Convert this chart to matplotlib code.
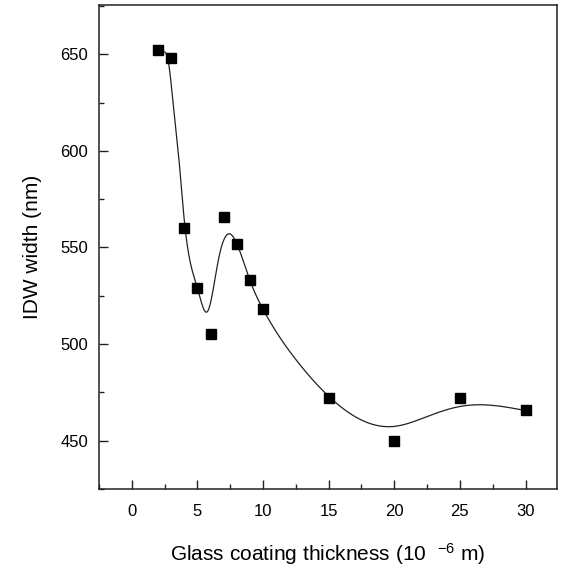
import numpy as np
import matplotlib
matplotlib.use("Agg")
import matplotlib.pyplot as plt
from matplotlib.ticker import MultipleLocator

# measured data points
thickness = [2, 3, 4, 5, 6, 7, 8, 9, 10, 15, 20, 25, 30]
idw_width = [652, 648, 560, 529, 505, 566, 552, 533, 518, 472, 450, 472, 466]

# smooth fitted curve, read at knots from the picture
curve_x = [2.3, 2.8, 3.2, 3.6, 4.0, 5.0, 5.77, 6.6, 7.42, 8.0, 9.0, 10.0,
           12.5, 15.0, 17.9, 20.0, 22.5, 25.0, 26.6, 30.0]
curve_y = [650.8, 645.5, 621, 595, 564, 529, 516.9, 543.7, 557.1, 552, 533, 518,
           492.0, 473, 459.5, 457.4, 462.5, 467.7, 468.6, 465.6]

x_ticks = [0, 5, 10, 15, 20, 25, 30]
y_ticks = [450, 500, 550, 600, 650]


def natural_spline(x, y, xs):
    x = np.asarray(x, float); y = np.asarray(y, float)
    n = len(x); h = np.diff(x)
    A = np.zeros((n, n)); b = np.zeros(n)
    A[0, 0] = 1; A[-1, -1] = 1
    for i in range(1, n - 1):
        A[i, i - 1] = h[i - 1]; A[i, i] = 2 * (h[i - 1] + h[i]); A[i, i + 1] = h[i]
        b[i] = 6 * ((y[i + 1] - y[i]) / h[i] - (y[i] - y[i - 1]) / h[i - 1])
    M = np.linalg.solve(A, b)
    idx = np.clip(np.searchsorted(x, xs) - 1, 0, n - 2)
    x0 = x[idx]; x1 = x[idx + 1]; hh = h[idx]
    return (M[idx] * (x1 - xs) ** 3 / (6 * hh) + M[idx + 1] * (xs - x0) ** 3 / (6 * hh)
            + (y[idx] / hh - M[idx] * hh / 6) * (x1 - xs)
            + (y[idx + 1] / hh - M[idx + 1] * hh / 6) * (xs - x0))


plt.rcParams['font.family'] = ['Liberation Sans', 'DejaVu Sans']
plt.rcParams['mathtext.fontset'] = 'custom'
plt.rcParams['mathtext.rm'] = 'Liberation Sans'
plt.rcParams['mathtext.it'] = 'Liberation Sans'

fig = plt.figure(figsize=(5.61, 5.68), dpi=100)
ax = fig.add_axes([99 / 561, 1 - 489 / 568, (557 - 99) / 561, (489 - 5) / 568])

xs = np.linspace(curve_x[0], curve_x[-1], 1200)
ax.plot(xs, natural_spline(curve_x, curve_y, xs), color='#222222', lw=0.9, zorder=2)
ax.plot(thickness, idw_width, linestyle='none', marker='s', ms=7.2,
        color='black', zorder=3)

ax.set_xlim(-2.5, 32.4)
ax.set_ylim(425, 675.5)
ax.set_xticks(x_ticks)
ax.set_yticks(y_ticks)
ax.xaxis.set_minor_locator(MultipleLocator(2.5))
ax.yaxis.set_minor_locator(MultipleLocator(25))
ax.tick_params(which='both', direction='in', top=False, right=False,
               labelsize=12, width=1.0, color='#222222')
ax.tick_params(which='major', length=6.5)
ax.tick_params(which='minor', length=3.6)
ax.tick_params(axis='x', pad=11)
ax.tick_params(axis='y', pad=8)
for s in ax.spines.values():
    s.set_linewidth(1.1)
    s.set_color('#222222')

ax.set_xlabel('Glass coating thickness (10  $^{-6}$ m)', fontsize=15, labelpad=16)
ax.set_ylabel('IDW width (nm)', fontsize=15, labelpad=13)

fig.savefig('out.png', dpi=100)
